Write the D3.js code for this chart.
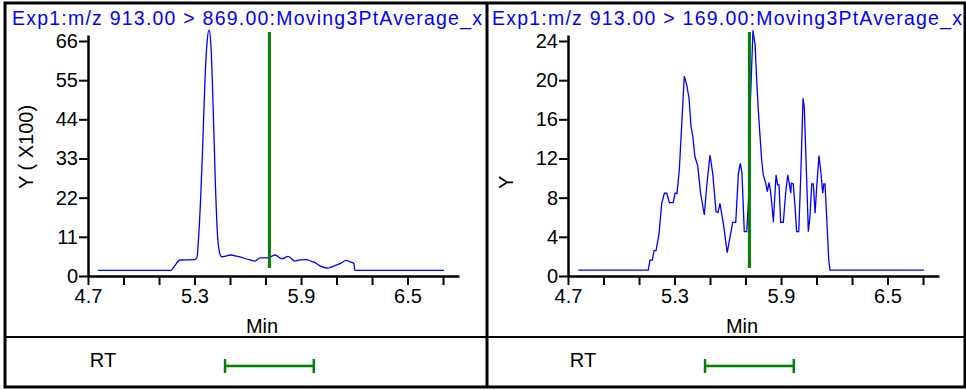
<!DOCTYPE html>
<html>
<head>
<meta charset="utf-8">
<script src="https://cdn.jsdelivr.net/npm/d3@7"></script>
<style>
  body { margin: 0; background: #fff; }
  svg { display: block; }
</style>
</head>
<body>
<svg id="chart" width="966" height="390"></svg>
<script>
// Trace titles and axis titles
const titles = [
  "Exp1:m/z 913.00 > 869.00:Moving3PtAverage_x",
  "Exp1:m/z 913.00 > 169.00:Moving3PtAverage_x"
];
const yTitles = ["Y ( X100)", "Y"];
const xTitle = "Min";
const rtLabel = "RT";

// Time axis (minutes): ticks every 0.2, labels every third tick
const xTickValues = [4.7, 4.9, 5.1, 5.3, 5.5, 5.7, 5.9, 6.1, 6.3, 6.5, 6.7];
const xTickLabels = ["4.7", "5.3", "5.9", "6.5"];
const xMax = 6.79;

// Intensity ticks
const yTicksLeft = [0, 11, 22, 33, 44, 55, 66];
const yTicksRight = [0, 4, 8, 12, 16, 20, 24];

// 913 > 869 transition (intensity in units of 100)
const leftTimes = [4.756, 5.168, 5.19, 5.218, 5.30, 5.314, 5.321, 5.335, 5.346, 5.359, 5.372, 5.382,
  5.393, 5.406, 5.417, 5.428, 5.44, 5.453, 5.478, 5.5, 5.545, 5.613, 5.641, 5.669, 5.714, 5.754,
  5.793, 5.827, 5.866, 5.894, 5.93, 5.956, 5.973, 6.013, 6.052, 6.069, 6.125, 6.154, 6.18, 6.197,
  6.204, 6.706];
const leftValues = [1.6, 1.6, 3.0, 4.5, 4.6, 5.2, 9.3, 22.3, 36.3, 55, 66.3, 69.1,
  64.4, 45.8, 27, 12.9, 6.8, 5.4, 5.6, 5.9, 5.5, 4.5, 4.2, 5.1, 5.1, 5.9,
  4.8, 5.5, 4.2, 4.5, 4.6, 4.2, 3.9, 2.7, 2.2, 2.5, 3.6, 4.4, 3.9, 3.5,
  1.6, 1.6];

// 913 > 169 transition
const rightTimes = [4.758, 5.152, 5.162, 5.175, 5.185, 5.196, 5.213, 5.228, 5.243, 5.256, 5.271,
  5.293, 5.303, 5.314, 5.327, 5.34, 5.355, 5.369, 5.382, 5.393, 5.402, 5.415, 5.431, 5.447,
  5.468, 5.481, 5.5, 5.515, 5.534, 5.545, 5.556, 5.575, 5.597, 5.613, 5.628, 5.645, 5.66,
  5.671, 5.68, 5.693, 5.707, 5.717, 5.728, 5.742, 5.754, 5.763, 5.772, 5.782, 5.791, 5.8,
  5.814, 5.823, 5.832, 5.84, 5.848, 5.857, 5.866, 5.872, 5.881, 5.889, 5.898, 5.913, 5.926,
  5.938, 5.947, 5.955, 5.958, 5.969, 5.979, 5.988, 6.0, 6.011, 6.024, 6.031, 6.041, 6.054,
  6.063, 6.073, 6.082, 6.092, 6.101, 6.114, 6.125, 6.135, 6.141, 6.148, 6.158, 6.169, 6.176,
  6.706];
const rightValues = [0.61, 0.61, 1.63, 1.63, 2.59, 2.59, 4.36, 7.42, 8.45, 8.45, 7.49,
  7.49, 8.45, 8.45, 10.8, 15.25, 20.4, 19.5, 18.15, 15.25, 14.4, 12.2, 11.2, 8.45,
  6.23, 9.12, 12.36, 10.5, 6.57, 6.47, 7.42, 5.38, 2.38, 4.01, 5.48, 5.48, 10.5,
  11.5, 10.5, 4.53, 4.53, 7.8, 18.0, 25.1, 23.6, 20.0, 16.96, 14.23, 11.85, 10.32,
  9.47, 8.61, 9.53, 8.78, 7.43, 5.49, 8.45, 10.32, 9.3, 9.3, 5.49, 5.49, 8.45,
  10.32, 9.4, 8.45, 9.47, 9.4, 7.08, 4.53, 4.53, 10.14, 18.15, 17.29, 11.85, 4.53,
  6.06, 9.4, 9.4, 6.4, 9.12, 12.29, 10.49, 8.45, 9.4, 9.4, 5.72, 1.63, 0.61,
  0.61];

// Expected retention time and window
const rtCenter = 5.722;
const rtHalfWindow = 0.25;

const svg = d3.select("#chart");
const FONT = "'Liberation Sans', Arial, sans-serif";
const BLUE = "#0000ff";
const GREEN = "#008000";

const panels = [
  { offset: 0, title: titles[0], yTitle: yTitles[0], yTicks: yTicksLeft,
    times: leftTimes, values: leftValues, curve: d3.curveMonotoneX },
  { offset: 480, title: titles[1], yTitle: yTitles[1], yTicks: yTicksRight,
    times: rightTimes, values: rightValues, curve: d3.curveLinear }
];

panels.forEach(p => {
  const g = svg.append("g").attr("transform", `translate(${p.offset},0)`);

  const x = d3.scaleLinear().domain([4.7, xMax]).range([88, 459]);
  const yTop = p.yTicks[p.yTicks.length - 1];
  const y = d3.scaleLinear().domain([0, yTop * 241 / 235]).range([276, 35]);

  // title
  g.append("text")
    .attr("x", 12).attr("y", 25)
    .attr("fill", BLUE)
    .attr("font-family", FONT).attr("font-size", 19.5)
    .attr("textLength", 470).attr("lengthAdjust", "spacing")
    .text(p.title);

  // y axis
  const yAxis = g.append("g").attr("transform", "translate(88,0)")
    .call(d3.axisLeft(y).tickValues(p.yTicks).tickSize(9).tickSizeOuter(0).tickPadding(1));
  yAxis.select(".domain").attr("stroke-width", 2.5);
  yAxis.selectAll(".tick line").attr("stroke-width", 2);
  yAxis.selectAll(".tick text").attr("font-family", FONT).attr("font-size", 20).attr("fill", "#000");

  // x axis
  const xAxis = g.append("g").attr("transform", "translate(0,276)")
    .call(d3.axisBottom(x).tickValues(xTickValues).tickSize(9).tickSizeOuter(0).tickPadding(4)
      .tickFormat(d => xTickLabels.includes(d.toFixed(1)) ? d.toFixed(1) : ""));
  xAxis.select(".domain").attr("stroke-width", 2.5);
  xAxis.selectAll(".tick line").attr("stroke-width", 2);
  xAxis.selectAll(".tick text").attr("font-family", FONT).attr("font-size", 20).attr("fill", "#000");

  // axis titles
  g.append("text")
    .attr("transform", "translate(33,189) rotate(-90)")
    .attr("font-family", FONT).attr("font-size", 20)
    .attr("text-anchor", "start")
    .text(p.yTitle);
  g.append("text")
    .attr("x", 262).attr("y", 333)
    .attr("text-anchor", "middle")
    .attr("font-family", FONT).attr("font-size", 20)
    .text(xTitle);

  // chromatogram trace
  const pts = p.times.map((t, i) => [t, p.values[i]]);
  g.append("path")
    .datum(pts)
    .attr("fill", "none")
    .attr("stroke", BLUE)
    .attr("stroke-width", 1.3)
    .attr("d", d3.line().x(d => x(d[0])).y(d => y(d[1])).curve(p.curve));

  // retention time marker
  g.append("line")
    .attr("x1", x(rtCenter)).attr("x2", x(rtCenter))
    .attr("y1", y.range()[1] - 3).attr("y2", y(0) - 8)
    .attr("stroke", GREEN).attr("stroke-width", 3);

  // RT window row
  g.append("text")
    .attr("x", 103).attr("y", 367)
    .attr("text-anchor", "middle")
    .attr("font-family", FONT).attr("font-size", 20)
    .text(rtLabel);
  const x0 = x(rtCenter - rtHalfWindow), x1 = x(rtCenter + rtHalfWindow);
  const rt = g.append("g").attr("stroke", GREEN).attr("stroke-width", 2.5);
  rt.append("line").attr("x1", x0).attr("x2", x1).attr("y1", 366).attr("y2", 366);
  rt.append("line").attr("x1", x0).attr("x2", x0).attr("y1", 359).attr("y2", 373);
  rt.append("line").attr("x1", x1).attr("x2", x1).attr("y1", 359).attr("y2", 373);
});

// frame and dividers
const frame = svg.append("g").attr("stroke", "#000").attr("fill", "none");
frame.append("rect").attr("x", 5).attr("y", 3).attr("width", 960).attr("height", 384).attr("stroke-width", 3);
frame.append("line").attr("x1", 487).attr("x2", 487).attr("y1", 3).attr("y2", 387).attr("stroke-width", 3);
frame.append("line").attr("x1", 5).attr("x2", 965).attr("y1", 337).attr("y2", 337).attr("stroke-width", 2);
</script>
</body>
</html>
